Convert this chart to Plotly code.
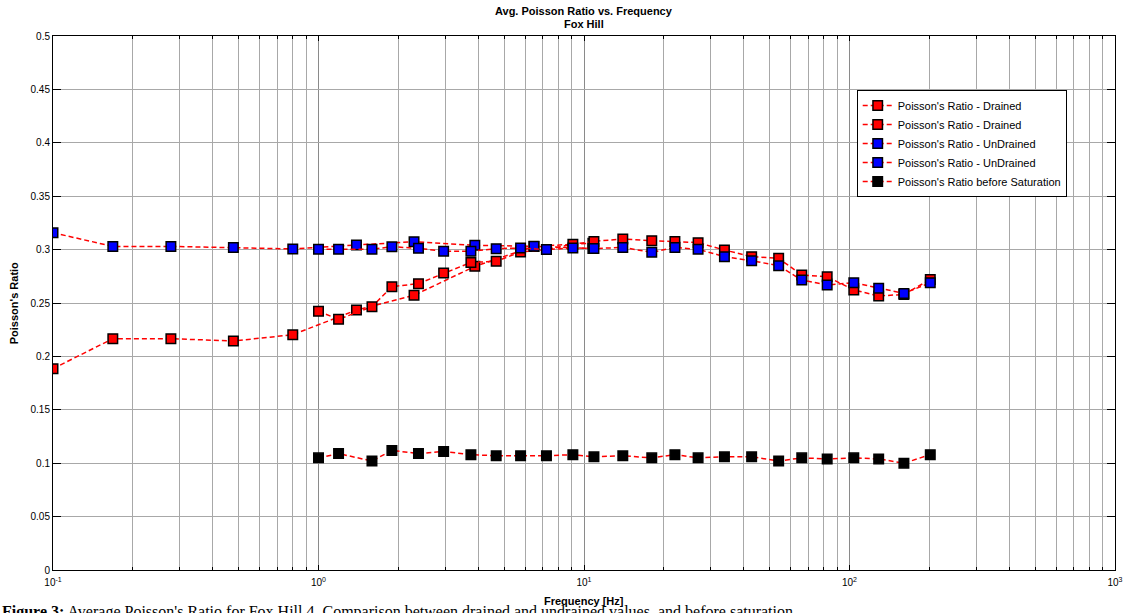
import plotly.graph_objects as go

# ---- data ----
freq_a = [0.1, 0.168, 0.278, 0.478, 0.8, 1.39, 2.29, 3.88, 6.48, 10.8]
drained_a = [0.1885, 0.2166, 0.2166, 0.2144, 0.2203, 0.2434, 0.2572, 0.2843, 0.303, 0.306]
undrained_a = [0.3158, 0.303, 0.303, 0.302, 0.3006, 0.3043, 0.3074, 0.304, 0.3031, 0.301]

freq_b = [1.0, 1.19, 1.59, 1.89, 2.38, 2.96, 3.75, 4.67, 5.77, 7.22, 9.08, 10.9, 14.0, 18.0,
          22.0, 26.9, 33.8, 42.8, 54.1, 66.1, 82.4, 103.8, 128.8, 160.3, 201.5]
drained_b = [0.2422, 0.2347, 0.2466, 0.2653, 0.2681, 0.278, 0.288, 0.289, 0.2978, 0.300, 0.305,
             0.3077, 0.310, 0.3084, 0.3077, 0.3065, 0.2996, 0.2934, 0.2918, 0.2762, 0.2746,
             0.2622, 0.2566, 0.258, 0.272]
undrained_b = [0.3003, 0.3003, 0.3003, 0.3027, 0.3012, 0.2984, 0.2984, 0.3009, 0.3015, 0.300,
               0.3015, 0.301, 0.302, 0.2975, 0.302, 0.3003, 0.2934, 0.2896, 0.2849, 0.2715,
               0.2669, 0.2690, 0.2637, 0.2590, 0.269]
dry = [0.105, 0.109, 0.102, 0.112, 0.109, 0.111, 0.108, 0.107, 0.107, 0.107, 0.108, 0.106,
       0.107, 0.105, 0.108, 0.105, 0.106, 0.106, 0.102, 0.105, 0.104, 0.105, 0.104, 0.100, 0.108]

x_major = [0.1, 1, 10, 100, 1000]
x_major_text = ["10<sup>-1</sup>", "10<sup>0</sup>", "10<sup>1</sup>", "10<sup>2</sup>", "10<sup>3</sup>"]
y_ticks = [0, 0.05, 0.1, 0.15, 0.2, 0.25, 0.3, 0.35, 0.4, 0.45, 0.5]
y_ticks_text = ["0", "0.05", "0.1", "0.15", "0.2", "0.25", "0.3", "0.35", "0.4", "0.45", "0.5"]

series = [
    ("Poisson's Ratio - Drained", freq_a, drained_a, "#ff0000"),
    ("Poisson's Ratio - Drained", freq_b, drained_b, "#ff0000"),
    ("Poisson's Ratio - UnDrained", freq_a, undrained_a, "#0000ff"),
    ("Poisson's Ratio - UnDrained", freq_b, undrained_b, "#0000ff"),
    ("Poisson's Ratio before Saturation", freq_b, dry, "#000000"),
]

FONT = "Liberation Sans, Arial, Helvetica, sans-serif"

fig = go.Figure()
for name, fx, fy, col in series:
    fig.add_trace(go.Scatter(
        x=fx, y=fy, name=name, mode="lines+markers",
        line=dict(color="#ff0000", width=1.5, dash="5px,3px"),
        marker=dict(symbol="square", size=9.5, color=col,
                    line=dict(color="#000000", width=1.5)),
    ))

minor_vals = [m * 10.0 ** d for d in range(-1, 3) for m in range(2, 10)]

fig.update_layout(
    width=1135, height=613,
    margin=dict(l=53, r=13, t=36, b=43),
    paper_bgcolor="white", plot_bgcolor="white",
    font=dict(family=FONT, size=10, color="black"),
    showlegend=True,
    legend=dict(x=(862 - 53) / 1069, y=(570 - 90) / 534, xanchor="left", yanchor="top",
                bgcolor="white", bordercolor="black", borderwidth=1,
                font=dict(size=11, family=FONT), itemwidth=30,
                tracegroupgap=0),
)

fig.update_xaxes(
    type="log", range=[-1, 3],
    tickmode="array", tickvals=x_major, ticktext=x_major_text,
    ticks="inside", ticklen=5, tickcolor="black",
    showline=True, linecolor="black", linewidth=1, mirror="allticks",
    showgrid=True, gridcolor="#8a8a8a", gridwidth=1,
    tickfont=dict(size=10, family=FONT), ticklabelstandoff=3,
    minor=dict(tickmode="array", tickvals=minor_vals, ticks="inside", ticklen=3,
               tickcolor="black", showgrid=True, gridcolor="#a8a8a8", gridwidth=1),
    zeroline=False,
)
fig.update_yaxes(
    range=[0, 0.5],
    tickmode="array", tickvals=y_ticks, ticktext=y_ticks_text,
    ticks="inside", ticklen=8, tickcolor="black",
    showline=True, linecolor="black", linewidth=1, mirror="allticks",
    showgrid=True, gridcolor="#a8a8a8", gridwidth=1,
    tickfont=dict(size=10, family=FONT),
    zeroline=False,
)

PLOT_H = 534.0
def py(pix):
    return (570 - pix) / PLOT_H

fig.add_annotation(text="<b>Avg. Poisson Ratio vs. Frequency</b>", xref="paper", yref="paper",
                   x=0.5, y=py(10.5), xanchor="center", yanchor="middle",
                   showarrow=False, font=dict(size=11, family=FONT))
fig.add_annotation(text="<b>Fox Hill</b>", xref="paper", yref="paper",
                   x=0.5, y=py(23.5), xanchor="center", yanchor="middle",
                   showarrow=False, font=dict(size=11, family=FONT))
fig.add_annotation(text="<b>Frequency [Hz]</b>", xref="paper", yref="paper",
                   x=0.5, y=py(601), xanchor="center", yanchor="middle",
                   showarrow=False, font=dict(size=11, family=FONT))
fig.add_annotation(text="<b>Poisson's Ratio</b>", xref="paper", yref="paper",
                   x=(14 - 53) / 1069, y=0.5, xanchor="center", yanchor="middle",
                   textangle=-90, showarrow=False, font=dict(size=11, family=FONT))
fig.add_annotation(text="<b>Figure 3:</b> Average Poisson's Ratio for Fox Hill 4. Comparison between drained and undrained values, and before saturation",
                   xref="paper", yref="paper",
                   x=(0 - 53) / 1069, y=py(623), xanchor="left", yanchor="bottom",
                   showarrow=False, font=dict(size=16, family="Liberation Serif, Times New Roman, serif"))

fig.write_html("out.html", config={"displayModeBar": False},
               post_script="document.body.style.margin='0px';document.body.style.overflow='hidden';")
